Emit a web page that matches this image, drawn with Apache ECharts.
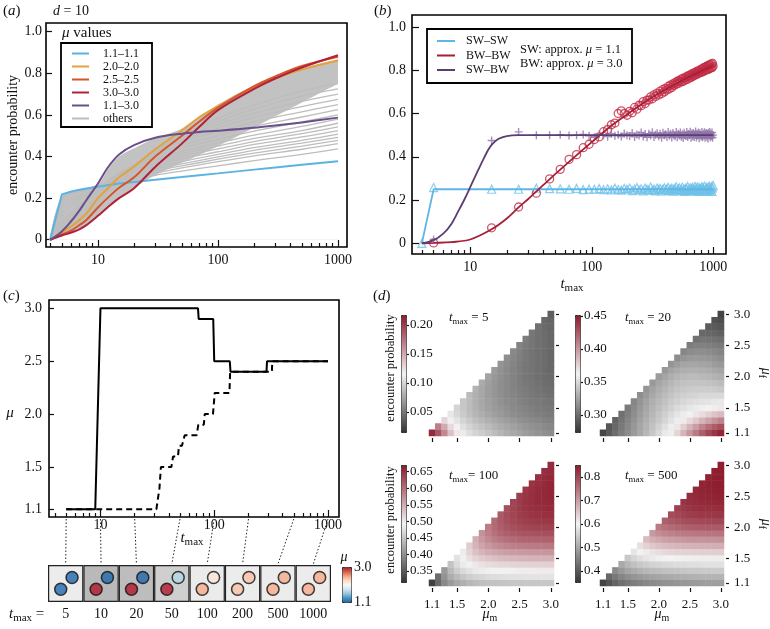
<!DOCTYPE html>
<html>
<head>
<meta charset="utf-8">
<script src="https://cdn.jsdelivr.net/npm/echarts@6.0.0/dist/echarts.min.js"></script>
<style>
html,body{margin:0;padding:0;background:#fff;}
#chart{width:770px;height:629px;}
</style>
</head>
<body>
<div id="chart"></div>
<script>
// ================= DATA =================
// ---- panel (a): encounter probability vs t_max, d = 10 ----
const aT      = [4,5,6,7,8,10,12,15,20,30,50,70,100,200,300,500,1000];
const a11_11  = [0,0.218,0.232,0.24,0.246,0.255,0.262,0.27,0.278,0.288,0.301,0.31,0.319,0.337,0.347,0.36,0.377];
const a20_20  = [0,0.035,0.065,0.095,0.125,0.2,0.245,0.3,0.352,0.435,0.525,0.59,0.642,0.733,0.775,0.818,0.862];
const a25_25  = [0,0.025,0.045,0.07,0.095,0.155,0.2,0.25,0.3,0.4,0.5,0.568,0.635,0.738,0.785,0.835,0.88];
const a30_30  = [0,0.02,0.035,0.05,0.07,0.115,0.155,0.2,0.248,0.35,0.462,0.543,0.623,0.725,0.775,0.828,0.887];
const a11_30  = [0,0.04,0.09,0.14,0.19,0.27,0.345,0.41,0.455,0.49,0.51,0.518,0.524,0.538,0.549,0.564,0.587];
// "others": dense band (lower / upper edge) + individual fanning curves
const aGT     = [4,5,7,10,12,15,20,30,50,100,200,500,1000];
const aBandLo = [0,0.022,0.052,0.118,0.155,0.2,0.25,0.31,0.37,0.45,0.54,0.66,0.75];
const aBandHi = [0,0.21,0.235,0.265,0.335,0.4,0.44,0.488,0.535,0.65,0.742,0.824,0.868];
const aOther1  = [0,0.2,0.235,0.26,0.27,0.28,0.29,0.31,0.33,0.355,0.38,0.41,0.437];
const aOther2  = [0,0.19,0.23,0.26,0.273,0.285,0.3,0.32,0.345,0.375,0.403,0.435,0.462];
const aOther3  = [0,0.17,0.22,0.255,0.272,0.288,0.305,0.33,0.355,0.387,0.416,0.45,0.478];
const aOther4  = [0,0.15,0.21,0.25,0.272,0.292,0.31,0.34,0.365,0.398,0.43,0.464,0.492];
const aOther5  = [0,0.13,0.2,0.248,0.275,0.298,0.32,0.35,0.376,0.41,0.443,0.478,0.508];
const aOther6  = [0,0.11,0.19,0.245,0.278,0.305,0.33,0.36,0.39,0.423,0.458,0.494,0.525];
const aOther7  = [0,0.09,0.17,0.24,0.28,0.31,0.337,0.37,0.402,0.437,0.472,0.51,0.543];
const aOther8  = [0,0.08,0.16,0.235,0.28,0.315,0.345,0.38,0.413,0.45,0.487,0.525,0.56];
const aOther9  = [0,0.07,0.15,0.23,0.28,0.32,0.352,0.39,0.425,0.465,0.503,0.545,0.58];
const aOther10 = [0,0.06,0.14,0.22,0.275,0.32,0.357,0.4,0.44,0.482,0.522,0.566,0.6];
const aOther11 = [0,0.05,0.13,0.21,0.27,0.318,0.36,0.41,0.455,0.5,0.545,0.59,0.625];
const aOther12 = [0,0.045,0.12,0.2,0.26,0.312,0.36,0.42,0.47,0.52,0.567,0.615,0.65];
const aOther13 = [0,0.04,0.11,0.19,0.25,0.305,0.36,0.425,0.48,0.538,0.588,0.64,0.675];
const aOther14 = [0,0.035,0.1,0.18,0.24,0.295,0.355,0.43,0.49,0.555,0.608,0.665,0.7];
const aOther15 = [0,0.03,0.09,0.17,0.23,0.285,0.35,0.43,0.5,0.57,0.628,0.69,0.725];
const aOther16 = [0,0.03,0.08,0.16,0.22,0.275,0.345,0.43,0.505,0.585,0.648,0.715,0.75];

// ---- panel (b): analytic curves + simulations ----
const bSWT    = [4,5,1000];
const bSWV    = [0,0.25,0.25];
const bBWT    = [4,5,7,10,15,20,25,30,40,50,70,100,150,200,300,500,700,1000];
const bBWV    = [0,0.002,0.006,0.018,0.065,0.115,0.166,0.205,0.27,0.32,0.393,0.468,0.55,0.6,0.668,0.74,0.781,0.823];
const bMixT   = [4,5,6,7,8,9,10,11,12,13,14,15,17,20,25,1000];
const bMixV   = [0,0.015,0.045,0.09,0.15,0.205,0.26,0.31,0.355,0.395,0.43,0.455,0.482,0.496,0.5,0.5];
const simT = [5,15,25,35,45,55,65,75,85,95,105,115,125,135,145,155,165,175,185,195,205,215,225,235,245,255,265,275,285,295,
  305,315,325,335,345,355,365,375,385,395,405,415,425,435,445,455,465,475,485,495,505,515,525,535,545,555,565,575,585,595,
  605,615,625,635,645,655,665,675,685,695,705,715,725,735,745,755,765,775,785,795,805,815,825,835,845,855,865,875,885,895,
  905,915,925,935,945,955,965,975,985,995];
const simSWpreT = [4];
const simSWpreV = [0];
const simSW = [0.258,0.25,0.25,0.255,0.253,0.252,0.25,0.254,0.248,0.251,
  0.25,0.253,0.248,0.252,0.247,0.255,0.249,0.246,0.254,0.25,
  0.256,0.244,0.25,0.258,0.247,0.252,0.243,0.255,0.25,0.247,
  0.26,0.246,0.251,0.243,0.256,0.249,0.254,0.242,0.25,0.257,
  0.245,0.252,0.259,0.244,0.25,0.255,0.241,0.253,0.248,0.262,
  0.246,0.251,0.257,0.243,0.249,0.26,0.245,0.252,0.24,0.256,
  0.25,0.263,0.244,0.248,0.257,0.242,0.253,0.259,0.246,0.25,
  0.264,0.243,0.255,0.248,0.261,0.24,0.252,0.257,0.245,0.25,
  0.262,0.243,0.256,0.248,0.265,0.241,0.253,0.258,0.244,0.25,
  0.26,0.246,0.264,0.242,0.255,0.249,0.262,0.24,0.256,0.268];
const simBW = [0.002,0.072,0.168,0.232,0.298,0.342,0.388,0.41,0.442,0.458,
  0.48,0.492,0.516,0.526,0.548,0.556,0.6,0.612,0.6,0.592,
  0.61,0.604,0.628,0.62,0.638,0.636,0.655,0.646,0.662,0.662,
  0.677,0.668,0.686,0.679,0.694,0.686,0.703,0.692,0.711,0.7,
  0.716,0.709,0.725,0.714,0.731,0.72,0.737,0.73,0.742,0.735,
  0.749,0.739,0.752,0.746,0.759,0.747,0.763,0.751,0.765,0.757,
  0.771,0.758,0.775,0.766,0.777,0.767,0.783,0.771,0.786,0.776,
  0.788,0.779,0.793,0.781,0.796,0.786,0.798,0.789,0.803,0.79,
  0.805,0.794,0.81,0.795,0.813,0.8,0.814,0.802,0.819,0.803,
  0.821,0.805,0.824,0.809,0.825,0.811,0.829,0.812,0.831,0.818];
const simMix = [0.018,0.475,0.515,0.5,0.5,0.502,0.498,0.5,0.503,0.497,
  0.49,0.504,0.499,0.493,0.507,0.497,0.502,0.494,0.508,0.5,
  0.496,0.51,0.492,0.503,0.498,0.512,0.494,0.505,0.49,0.507,
  0.498,0.513,0.491,0.502,0.509,0.495,0.506,0.488,0.511,0.499,
  0.504,0.492,0.514,0.497,0.506,0.489,0.51,0.5,0.495,0.515,
  0.49,0.507,0.498,0.512,0.493,0.504,0.487,0.511,0.499,0.496,
  0.514,0.491,0.505,0.5,0.516,0.488,0.508,0.495,0.51,0.492,
  0.503,0.517,0.489,0.506,0.498,0.512,0.486,0.509,0.501,0.494,
  0.515,0.49,0.507,0.497,0.513,0.488,0.504,0.51,0.493,0.506,
  0.485,0.511,0.499,0.514,0.49,0.505,0.496,0.512,0.488,0.5];

// ---- panel (c): optimal mu vs t_max ----
const cSolidT  = [5,9,10,72,73,98,100,137,139,288,291,1000];
const cSolidMu = [1.1,1.1,3.0,3.0,2.9,2.9,2.5,2.5,2.4,2.4,2.5,2.5];
const cDashT   = [5,31,32,33,34,42,43.5,48,49,52,55,70,72.5,81,82.5,97.5,101,136,138,321,324,1000];
const cDashMu  = [1.1,1.1,1.2,1.3,1.5,1.5,1.6,1.6,1.7,1.7,1.8,1.8,1.9,1.9,2.0,2.0,2.2,2.2,2.4,2.4,2.5,2.5];
const stripT       = ['5','10','20','50','100','200','500','1000'];
const stripShade   = [0.06,0.76,0.71,0.46,0.07,0.06,0.06,0.06];
const stripMuLower = [1.1,3.0,3.0,3.0,2.5,2.4,2.5,2.5];
const stripMuUpper = [1.1,1.1,1.1,1.7,2.2,2.4,2.5,2.5];

// ---- panel (d): heatmaps, rows = mu_f 1.1..3.0, entries = mu_m from mu_f..3.0 ----
const muCats = ['1.1','1.2','1.3','1.4','1.5','1.6','1.7','1.8','1.9','2.0','2.1','2.2','2.3','2.4','2.5','2.6','2.7','2.8','2.9','3.0'];
const hm5 = [
 [0.21,0.19,0.165,0.14,0.122,0.112,0.105,0.1,0.096,0.092,0.088,0.084,0.08,0.077,0.074,0.071,0.068,0.066,0.064,0.062],
 [0.17,0.15,0.128,0.115,0.106,0.1,0.095,0.091,0.087,0.083,0.079,0.076,0.073,0.07,0.067,0.065,0.063,0.061,0.059],
 [0.13,0.118,0.108,0.1,0.094,0.089,0.085,0.081,0.077,0.074,0.071,0.068,0.065,0.063,0.061,0.059,0.057,0.056],
 [0.11,0.102,0.095,0.089,0.084,0.08,0.076,0.072,0.069,0.066,0.063,0.061,0.059,0.057,0.055,0.054,0.053],
 [0.1,0.093,0.087,0.082,0.077,0.073,0.07,0.067,0.064,0.061,0.059,0.057,0.055,0.053,0.052,0.051],
 [0.093,0.087,0.081,0.076,0.072,0.068,0.065,0.062,0.06,0.057,0.055,0.053,0.052,0.05,0.049],
 [0.087,0.081,0.076,0.071,0.067,0.064,0.061,0.058,0.056,0.054,0.052,0.05,0.049,0.047],
 [0.082,0.076,0.071,0.067,0.063,0.06,0.057,0.055,0.053,0.051,0.049,0.047,0.046],
 [0.078,0.072,0.067,0.063,0.06,0.057,0.054,0.052,0.05,0.048,0.046,0.045],
 [0.074,0.068,0.064,0.06,0.057,0.054,0.051,0.049,0.047,0.045,0.044],
 [0.07,0.065,0.061,0.057,0.054,0.051,0.049,0.047,0.045,0.043],
 [0.066,0.062,0.058,0.054,0.051,0.049,0.047,0.045,0.043],
 [0.063,0.059,0.055,0.052,0.049,0.047,0.045,0.043],
 [0.06,0.056,0.052,0.049,0.047,0.045,0.043],
 [0.057,0.053,0.05,0.047,0.045,0.043],
 [0.054,0.05,0.047,0.045,0.043],
 [0.051,0.047,0.045,0.043],
 [0.047,0.044,0.042],
 [0.043,0.041],
 [0.038]];
const hm20 = [
 [0.283,0.292,0.3,0.308,0.315,0.322,0.328,0.335,0.342,0.35,0.358,0.365,0.375,0.388,0.4,0.412,0.423,0.433,0.44,0.447],
 [0.29,0.298,0.306,0.313,0.32,0.327,0.333,0.34,0.347,0.354,0.36,0.368,0.378,0.388,0.398,0.408,0.417,0.424,0.43],
 [0.296,0.304,0.311,0.318,0.325,0.331,0.337,0.343,0.349,0.355,0.36,0.366,0.373,0.38,0.388,0.395,0.402,0.408],
 [0.302,0.309,0.316,0.323,0.329,0.335,0.341,0.346,0.351,0.356,0.36,0.364,0.368,0.372,0.377,0.382,0.386],
 [0.307,0.314,0.321,0.327,0.333,0.338,0.343,0.347,0.351,0.354,0.357,0.359,0.361,0.363,0.365,0.367],
 [0.312,0.319,0.325,0.331,0.336,0.34,0.344,0.347,0.35,0.352,0.354,0.355,0.356,0.357,0.358],
 [0.316,0.322,0.328,0.333,0.337,0.341,0.344,0.346,0.348,0.349,0.35,0.35,0.35,0.35],
 [0.319,0.325,0.33,0.334,0.338,0.341,0.343,0.344,0.345,0.345,0.345,0.344,0.343],
 [0.321,0.327,0.331,0.335,0.338,0.34,0.341,0.341,0.341,0.34,0.339,0.337],
 [0.322,0.327,0.331,0.334,0.336,0.337,0.337,0.336,0.335,0.333,0.331],
 [0.321,0.326,0.329,0.331,0.332,0.332,0.331,0.33,0.328,0.326],
 [0.319,0.323,0.326,0.327,0.327,0.326,0.325,0.323,0.321],
 [0.316,0.319,0.321,0.322,0.321,0.32,0.318,0.316],
 [0.312,0.315,0.316,0.316,0.315,0.313,0.311],
 [0.308,0.31,0.31,0.309,0.308,0.306],
 [0.303,0.304,0.304,0.303,0.301],
 [0.298,0.298,0.297,0.295],
 [0.293,0.292,0.29],
 [0.288,0.286],
 [0.282]];
const hm100 = [
 [0.327,0.365,0.395,0.412,0.424,0.432,0.438,0.442,0.445,0.447,0.449,0.45,0.451,0.452,0.452,0.453,0.453,0.453,0.454,0.454],
 [0.37,0.405,0.428,0.442,0.452,0.459,0.464,0.468,0.471,0.473,0.475,0.476,0.477,0.478,0.479,0.479,0.48,0.48,0.48],
 [0.41,0.44,0.458,0.47,0.478,0.484,0.488,0.491,0.493,0.495,0.496,0.497,0.498,0.499,0.499,0.5,0.5,0.5],
 [0.45,0.472,0.486,0.496,0.503,0.508,0.512,0.515,0.517,0.518,0.519,0.52,0.521,0.521,0.522,0.522,0.522],
 [0.478,0.497,0.51,0.52,0.527,0.532,0.536,0.539,0.541,0.542,0.543,0.544,0.545,0.545,0.546,0.546],
 [0.5,0.52,0.534,0.544,0.551,0.556,0.56,0.563,0.565,0.566,0.567,0.568,0.569,0.569,0.57],
 [0.525,0.545,0.558,0.568,0.575,0.58,0.584,0.587,0.589,0.59,0.591,0.592,0.593,0.593],
 [0.55,0.568,0.58,0.589,0.596,0.601,0.604,0.607,0.609,0.61,0.611,0.612,0.612],
 [0.572,0.588,0.599,0.607,0.613,0.617,0.62,0.622,0.624,0.625,0.626,0.626],
 [0.59,0.604,0.614,0.621,0.626,0.63,0.633,0.635,0.636,0.637,0.638],
 [0.605,0.617,0.626,0.632,0.637,0.64,0.642,0.644,0.645,0.646],
 [0.617,0.628,0.635,0.641,0.645,0.648,0.65,0.651,0.652],
 [0.627,0.636,0.643,0.648,0.651,0.654,0.655,0.656],
 [0.635,0.643,0.649,0.653,0.656,0.658,0.659],
 [0.641,0.648,0.653,0.657,0.659,0.66],
 [0.646,0.652,0.656,0.659,0.661],
 [0.649,0.654,0.658,0.66],
 [0.652,0.656,0.659],
 [0.654,0.657],
 [0.655]];
const hm500 = [
 [0.372,0.395,0.415,0.43,0.44,0.448,0.455,0.461,0.466,0.47,0.474,0.477,0.48,0.483,0.485,0.487,0.489,0.49,0.491,0.492],
 [0.42,0.442,0.458,0.47,0.479,0.486,0.492,0.497,0.501,0.505,0.508,0.511,0.513,0.515,0.517,0.518,0.519,0.52,0.52],
 [0.465,0.485,0.499,0.509,0.517,0.523,0.528,0.532,0.536,0.539,0.541,0.543,0.545,0.546,0.547,0.548,0.549,0.549],
 [0.505,0.523,0.536,0.545,0.552,0.558,0.562,0.566,0.569,0.571,0.573,0.575,0.576,0.577,0.578,0.578,0.579],
 [0.545,0.562,0.574,0.583,0.59,0.595,0.599,0.602,0.604,0.606,0.607,0.608,0.609,0.609,0.61,0.61],
 [0.585,0.6,0.612,0.621,0.627,0.632,0.635,0.638,0.64,0.641,0.642,0.643,0.643,0.644,0.644],
 [0.625,0.64,0.651,0.659,0.665,0.669,0.672,0.674,0.676,0.677,0.678,0.678,0.679,0.679],
 [0.665,0.679,0.689,0.696,0.701,0.705,0.708,0.71,0.711,0.712,0.713,0.713,0.714],
 [0.705,0.717,0.726,0.732,0.737,0.74,0.742,0.744,0.745,0.746,0.746,0.747],
 [0.74,0.75,0.758,0.764,0.768,0.771,0.773,0.774,0.775,0.776,0.776],
 [0.77,0.778,0.785,0.79,0.793,0.795,0.797,0.798,0.799,0.8],
 [0.792,0.799,0.805,0.809,0.812,0.814,0.815,0.816,0.817],
 [0.808,0.814,0.819,0.822,0.825,0.826,0.827,0.828],
 [0.82,0.825,0.829,0.832,0.834,0.835,0.836],
 [0.828,0.832,0.836,0.838,0.84,0.841],
 [0.834,0.838,0.841,0.843,0.844],
 [0.838,0.842,0.844,0.846],
 [0.841,0.844,0.846],
 [0.843,0.846],
 [0.845]];

// tick labels
const majorT = [10,100,1000];
const minorT = [4,5,6,7,8,9,20,30,40,50,60,70,80,90,200,300,400,500,600,700,800,900];
const probTicks = [0,0.2,0.4,0.6,0.8,1.0];
const muTicks = [1.1,1.5,2.0,2.5,3.0];
const hmTickIdx = [0,4,9,14,19];
const cb5Ticks = [0.05,0.10,0.15,0.20];
const cb20Ticks = [0.30,0.35,0.40,0.45];
const cb100Ticks = [0.35,0.40,0.45,0.50,0.55,0.60,0.65];
const cb500Ticks = [0.4,0.5,0.6,0.7,0.8];

// ================= LAYOUT / STYLE =================
const SERIF = "'Liberation Serif','Times New Roman',serif";
const INK = '#111';
const G = {
  a:{left:46,top:23,width:301,height:224},
  b:{left:412,top:15,width:314,height:239},
  c:{left:49,top:300,width:290,height:217},
  strip:{left:48,top:565,width:283,height:37},
  cbc:{left:342,top:567,width:9,height:35},
  h5:{left:429,top:311,width:125,height:125},
  h20:{left:600,top:311,width:124,height:125},
  h100:{left:429,top:462,width:125,height:124},
  h500:{left:600,top:462,width:124,height:124},
  cb5:{left:401,top:315,width:5,height:117},
  cb20:{left:575,top:315,width:5,height:117},
  cb100:{left:401,top:465,width:5,height:117},
  cb500:{left:575,top:465,width:5,height:117}
};
const HEAT_COLORS = ['#343434','#f3f3f3','#8c1a2c'];
const MU_COLORS = ['#2166ac','#4393c3','#92c5de','#d1e5f0','#f7f7f7','#fddbc7','#f4a582','#d6604d','#b2182b'];

function grid(r, box){
  return Object.assign({show:!!box, borderColor:'#000', borderWidth:1.6, backgroundColor:'transparent', containLabel:false, outerBoundsMode:'none'}, r);
}
const tickStyle = {color:INK, width:1.2};
const labelFont = {fontFamily:SERIF, fontSize:14, color:INK};
const noLine = {show:false, onZero:false};
// data axis: native log axis (decade ticks + labels); helper value axis on log10(t) carries the 2..9 minor ticks
function logAxes(g, min, max, margin){
  return [
    {type:'log', logBase:10, gridIndex:g, min:min, max:max, position:'bottom', offset:0,
      axisLine:noLine, splitLine:{show:false}, minorTick:{show:false},
      axisTick:{show:true, inside:true, length:7, lineStyle:tickStyle},
      axisLabel:Object.assign({show:true, margin:margin, showMinLabel:false, showMaxLabel:false,
        formatter:v=>{const r=Math.round(v); return majorT.indexOf(r)>=0 && Math.abs(v-r)<1e-6 ? String(r) : '';}}, labelFont)},
    {type:'value', gridIndex:g, min:Math.log10(min), max:Math.log10(max), position:'bottom', offset:0,
      axisLine:noLine, splitLine:{show:false},
      axisTick:{show:true, inside:true, length:4, customValues:minorT.map(v=>Math.log10(v)), lineStyle:tickStyle},
      axisLabel:{show:false}}
  ];
}
function valY(g, min, max, ticks, fmt, margin, len){
  return {type:'value', gridIndex:g, min:min, max:max, position:'left',
    axisLine:noLine, splitLine:{show:false},
    axisTick:{show:true, inside:true, length:len, customValues:ticks, lineStyle:tickStyle},
    axisLabel:Object.assign({customValues:ticks, formatter:fmt, margin:margin}, labelFont)};
}
const probFmt = v => (Math.abs(v)<1e-9 ? '0' : v.toFixed(1));
function hmX(g, showLabel){
  return {type:'category', gridIndex:g, data:muCats, position:'bottom', offset:6,
    axisLine:noLine, splitLine:{show:false},
    axisTick:{show:true, inside:true, length:4, alignWithLabel:true, interval:(i)=>hmTickIdx.indexOf(i)>=0, lineStyle:tickStyle},
    axisLabel:{show:showLabel, interval:(i)=>hmTickIdx.indexOf(i)>=0, margin:6, fontFamily:SERIF, fontSize:13, color:INK}};
}
function hmY(g, showLabel){
  return {type:'category', gridIndex:g, data:muCats, position:'right', offset:5,
    axisLine:noLine, splitLine:{show:false},
    axisTick:{show:true, inside:true, length:3, alignWithLabel:true, interval:(i)=>hmTickIdx.indexOf(i)>=0, lineStyle:tickStyle},
    axisLabel:{show:showLabel, interval:(i)=>hmTickIdx.indexOf(i)>=0, margin:5, fontFamily:SERIF, fontSize:13, color:INK}};
}
function cbY(g, min, max, ticks, dec){
  return {type:'value', gridIndex:g, min:min, max:max, position:'right',
    axisLine:noLine, splitLine:{show:false},
    axisTick:{show:true, inside:false, length:3, customValues:ticks, lineStyle:tickStyle},
    axisLabel:{customValues:ticks, margin:4, formatter:v=>v.toFixed(dec), fontFamily:SERIF, fontSize:13, color:INK}};
}
function hiddenX(g){ return {type:'value', gridIndex:g, min:0, max:1, show:false, axisLine:noLine}; }
function zip(xs, ys){ return xs.map((x,i)=>[x, ys[i]]); }
function hmData(rows){ const d=[]; rows.forEach((row,j)=>row.forEach((v,k)=>d.push([j+k, j, v]))); return d; }

// ================= AXES =================
const xAxis = [].concat(
  logAxes(0, 3.69, 1189, 6),          // 0,1  (a)
  logAxes(1, 3.32, 1271, 6),          // 2,3  (b)
  logAxes(2, 3.53, 1249, 1),          // 4,5  (c)
  [{type:'category', gridIndex:3, data:stripT, position:'bottom', axisLine:noLine, axisTick:{show:false},
     splitLine:{show:false}, axisLabel:{interval:0, margin:5, fontFamily:SERIF, fontSize:14, color:INK}},   // 6
   {type:'value', gridIndex:3, min:0, max:stripT.length, show:false, axisLine:noLine},        // 7
   hiddenX(4),                                                                                 // 8
   hmX(5,false), hmX(6,false), hmX(7,true), hmX(8,true),                                       // 9-12
   hiddenX(9), hiddenX(10), hiddenX(11), hiddenX(12)]                                          // 13-16
);
const yAxis = [
  valY(0, -0.035, 1.042, probTicks, probFmt, 4, 6),
  valY(1, -0.049, 1.055, probTicks, probFmt, 6, 7),
  valY(2, 1.027, 3.079, muTicks, v=>v.toFixed(1), 7, 5),
  {type:'value', gridIndex:3, min:0, max:1, show:false, axisLine:noLine},
  {type:'value', gridIndex:4, min:1.1, max:3.0, position:'right', axisLine:noLine, axisTick:{show:false}, splitLine:{show:false},
    axisLabel:Object.assign({customValues:[1.1,3.0], margin:3, formatter:v=>v.toFixed(1)}, labelFont)},
  hmY(5,false), hmY(6,true), hmY(7,false), hmY(8,true),
  cbY(9, 0.0154, 0.217, cb5Ticks, 2),
  cbY(10, 0.274, 0.4515, cb20Ticks, 2),
  cbY(11, 0.317, 0.67, cb100Ticks, 2),
  cbY(12, 0.353, 0.85, cb500Ticks, 1)
];

// ================= SERIES =================
const series = [];
function add(s){ series.push(Object.assign({animation:false, silent:true}, s)); return series.length-1; }
function line(name, xs, ys, color, width, extra){
  return add(Object.assign({type:'line', name:name, xAxisIndex:0, yAxisIndex:0, data:zip(xs,ys), symbol:'none',
    color:color, lineStyle:{color:color, width:width}, smooth:0.35}, extra||{}));
}
// (a) dense "others" band: grey area under its upper edge, white area under its lower edge
add({type:'line', name:'band-hi', xAxisIndex:0, yAxisIndex:0, data:zip(aGT,aBandHi), symbol:'none',
  lineStyle:{width:0, opacity:0}, areaStyle:{color:'#c2c2c2', opacity:1}, smooth:0.3, z:1});
add({type:'line', name:'band-lo', xAxisIndex:0, yAxisIndex:0, data:zip(aGT,aBandLo), symbol:'none',
  lineStyle:{width:0, opacity:0}, areaStyle:{color:'#ffffff', opacity:1}, smooth:0.3, z:2});
[aOther1,aOther2,aOther3,aOther4,aOther5,aOther6,aOther7,aOther8,aOther9,aOther10,aOther11,aOther12,aOther13,aOther14,aOther15,aOther16]
  .forEach(arr=>line('others', aGT, arr, '#bdbdbd', 1.3, {z:3}));
line('1.1–1.1', aT, a11_11, '#5ab3e0', 2, {smooth:false, z:4});
line('2.0–2.0', aT, a20_20, '#e3a23b', 2, {z:4});
line('2.5–2.5', aT, a25_25, '#d5562b', 2, {z:4});
line('3.0–3.0', aT, a30_30, '#b0213a', 2, {z:4});
line('1.1–3.0', aT, a11_30, '#6b4f8c', 2, {z:5});
// (b)
const PLUS = 'path://M5,0L5,10M0,5L10,5';
add({type:'scatter', name:'sim-sw', xAxisIndex:2, yAxisIndex:1, data:zip(simSWpreT,simSWpreV).concat(zip(simT,simSW)),
  symbol:'triangle', symbolSize:8, itemStyle:{color:'rgba(0,0,0,0)', borderColor:'#6ec0ea', borderWidth:1.2}, z:2});
add({type:'scatter', name:'sim-bw', xAxisIndex:2, yAxisIndex:1, data:zip(simT,simBW),
  symbol:'circle', symbolSize:8, itemStyle:{color:'rgba(0,0,0,0)', borderColor:'#c22a44', borderWidth:1.3}, z:2});
add({type:'scatter', name:'sim-mix', xAxisIndex:2, yAxisIndex:1, data:zip(simT,simMix),
  symbol:PLUS, symbolSize:8, itemStyle:{color:'rgba(0,0,0,0)', borderColor:'#8f72a8', borderWidth:1.4}, z:2});
line('SW–SW', bSWT, bSWV, '#5fb6e4', 1.8, {xAxisIndex:2, yAxisIndex:1, smooth:false, z:3});
line('BW–BW', bBWT, bBWV, '#a51f37', 1.8, {xAxisIndex:2, yAxisIndex:1, z:3});
line('SW–BW', bMixT, bMixV, '#5a3e72', 1.8, {xAxisIndex:2, yAxisIndex:1, z:3});
// (c)
line('solid', cSolidT, cSolidMu, '#000', 2, {xAxisIndex:4, yAxisIndex:2, smooth:false, z:4});
line('dashed', cDashT, cDashMu, '#000', 2, {xAxisIndex:4, yAxisIndex:2, smooth:false, z:3, lineStyle:{color:'#000', width:2, type:[6,4]}});
const sBoxes = add({type:'bar', name:'boxes', xAxisIndex:6, yAxisIndex:3, data:stripShade.map((s,i)=>[i,1,s]),
  encode:{x:0,y:1}, barWidth:'100%', barGap:'0%', barCategoryGap:'0%', itemStyle:{borderColor:'#222', borderWidth:1.2}, z:1});
const sLower = add({type:'scatter', name:'mu-lower', xAxisIndex:7, yAxisIndex:3,
  data:stripMuLower.map((m,i)=>[i+0.36, 0.345, m]), symbolSize:12, itemStyle:{borderColor:'#111', borderWidth:1.5}, z:3});
const sUpper = add({type:'scatter', name:'mu-upper', xAxisIndex:7, yAxisIndex:3,
  data:stripMuUpper.map((m,i)=>[i+0.68, 0.66, m]), symbolSize:12, itemStyle:{borderColor:'#111', borderWidth:1.5}, z:3});
// (d)
const sH = [hm5,hm20,hm100,hm500].map((rows,k)=>add({type:'heatmap', name:'hm'+k, xAxisIndex:9+k, yAxisIndex:5+k, data:hmData(rows),
  itemStyle:{borderWidth:0}, progressive:0}));

// ================= VISUAL MAPS =================
function cbMap(si, min, max, box, colors){
  return {type:'continuous', seriesIndex:si, dimension:2, min:min, max:max, calculable:false, hoverLink:false, realtime:false,
    inRange:{color:colors}, orient:'vertical', left:box.left, top:box.top, itemWidth:box.width, itemHeight:box.height,
    padding:0, borderColor:'#222', borderWidth:1, text:null, show:true};
}
const visualMap = [
  cbMap([sLower,sUpper], 1.1, 3.0, G.cbc, MU_COLORS),
  {type:'continuous', seriesIndex:sBoxes, dimension:2, min:0, max:1, show:false, inRange:{color:['#f0f0f0','#a8a8a8']}},
  cbMap(sH[0], 0.0154, 0.217, G.cb5, HEAT_COLORS),
  cbMap(sH[1], 0.274, 0.4515, G.cb20, HEAT_COLORS),
  cbMap(sH[2], 0.317, 0.67, G.cb100, HEAT_COLORS),
  cbMap(sH[3], 0.353, 0.85, G.cb500, HEAT_COLORS)
];

// ================= LEGENDS =================
const legendText = {fontFamily:SERIF, fontSize:12, color:INK, lineHeight:13, padding:[0,0,0,9]};
const legend = [
  {data:['1.1–1.1','2.0–2.0','2.5–2.5','3.0–3.0','1.1–3.0','others'], orient:'vertical', left:72, top:47,
   icon:'rect', itemWidth:17, itemHeight:2, itemGap:0, selectedMode:false, textStyle:legendText, padding:0},
  {data:['SW–SW','BW–BW','SW–BW'], orient:'vertical', left:437, top:34.5,
   icon:'rect', itemWidth:18, itemHeight:2, itemGap:1.5, selectedMode:false, textStyle:Object.assign({}, legendText, {padding:[0,0,0,6]}), padding:0}
];

const grids = [grid(G.a,true), grid(G.b,true), grid(G.c,true), grid(G.strip), grid(G.cbc),
  grid(G.h5), grid(G.h20), grid(G.h100), grid(G.h500), grid(G.cb5), grid(G.cb20), grid(G.cb100), grid(G.cb500)];

const chart = echarts.init(document.getElementById('chart'), null, {renderer:'canvas'});
chart.setOption({animation:false, backgroundColor:'#fff', textStyle:{fontFamily:SERIF},
  grid:grids, xAxis:xAxis, yAxis:yAxis, series:series, visualMap:visualMap, legend:legend});

// ================= TEXT / ANNOTATIONS =================
function rich(sz){
  return {
    n:{fontFamily:SERIF, fontSize:sz, fill:INK, color:INK, lineHeight:sz+4},
    i:{fontFamily:SERIF, fontSize:sz, fontStyle:'italic', fill:INK, color:INK, lineHeight:sz+4},
    s:{fontFamily:SERIF, fontSize:Math.round(sz*0.72), fill:INK, color:INK, verticalAlign:'bottom'}
  };
}
function T(x, y, text, sz, align, rot){
  return {type:'text', x:x, y:y, rotation:rot||0, z:100, silent:true,
    style:{text:text, fontFamily:SERIF, fontSize:sz, fill:INK, align:align||'left', verticalAlign:'middle', rich:rich(sz)}};
}
const R90 = Math.PI/2;
const graphics = [
  {type:'rect', shape:{x:61, y:43, width:91, height:84}, style:{fill:'none', stroke:'#000', lineWidth:1.8}, z:50, silent:true},
  {type:'rect', shape:{x:427, y:29, width:205, height:54}, style:{fill:'none', stroke:'#000', lineWidth:1.8}, z:50, silent:true},
  T(3, 11, '{n|(}{i|a}{n|)}', 15),
  T(53, 11, '{i|d}{n| = 10}', 14),
  T(13, 135, '{n|encounter probability}', 14, 'center', R90),
  T(62, 33, '{i|μ}{n| values}', 15),
  T(374, 11, '{n|(}{i|b}{n|)}', 15),
  T(520, 50, '{n|SW: approx. }{i|μ}{n| = 1.1}', 12.5),
  T(520, 64, '{n|BW: approx. }{i|μ}{n| = 3.0}', 12.5),
  T(572, 284, '{i|t}{s|max}', 15, 'center'),
  T(3, 296, '{n|(}{i|c}{n|)}', 15),
  T(10, 413, '{i|μ}', 15, 'center'),
  T(192, 538, '{i|t}{s|max}', 15, 'center'),
  T(9, 614, '{i|t}{s|max}{n| =}', 15),
  T(344, 557, '{i|μ}', 14, 'center'),
  T(373, 296, '{n|(}{i|d}{n|)}', 15),
  T(391, 368, '{n|encounter probability}', 12.5, 'center', R90),
  T(391, 520, '{n|encounter probability}', 12.5, 'center', R90),
  T(766, 373, '{i|μ}{s|f}', 14, 'center', -R90),
  T(766, 524, '{i|μ}{s|f}', 14, 'center', -R90),
  T(490, 614, '{i|μ}{s|m}', 14, 'center'),
  T(662, 614, '{i|μ}{s|m}', 14, 'center'),
  T(449, 318, '{i|t}{s|max}{n| = 5}', 13),
  T(625, 318, '{i|t}{s|max}{n| = 20}', 13),
  T(449, 476, '{i|t}{s|max}{n|= 100}', 13),
  T(625, 476, '{i|t}{s|max}{n| = 500}', 13)
];
// dotted connectors from the (c) t_max axis to the strip boxes
stripT.forEach((t,i)=>{
  const x1 = chart.convertToPixel({xAxisIndex:4}, Number(t));
  const x2 = chart.convertToPixel({xAxisIndex:6}, i);
  graphics.push({type:'line', shape:{x1:x1, y1:G.c.top+G.c.height+2, x2:x2, y2:G.strip.top-1}, z:40, silent:true,
    style:{stroke:'#222', lineWidth:1, lineDash:[1.5,2]}});
});
chart.setOption({graphic:graphics});
</script>
</body>
</html>
